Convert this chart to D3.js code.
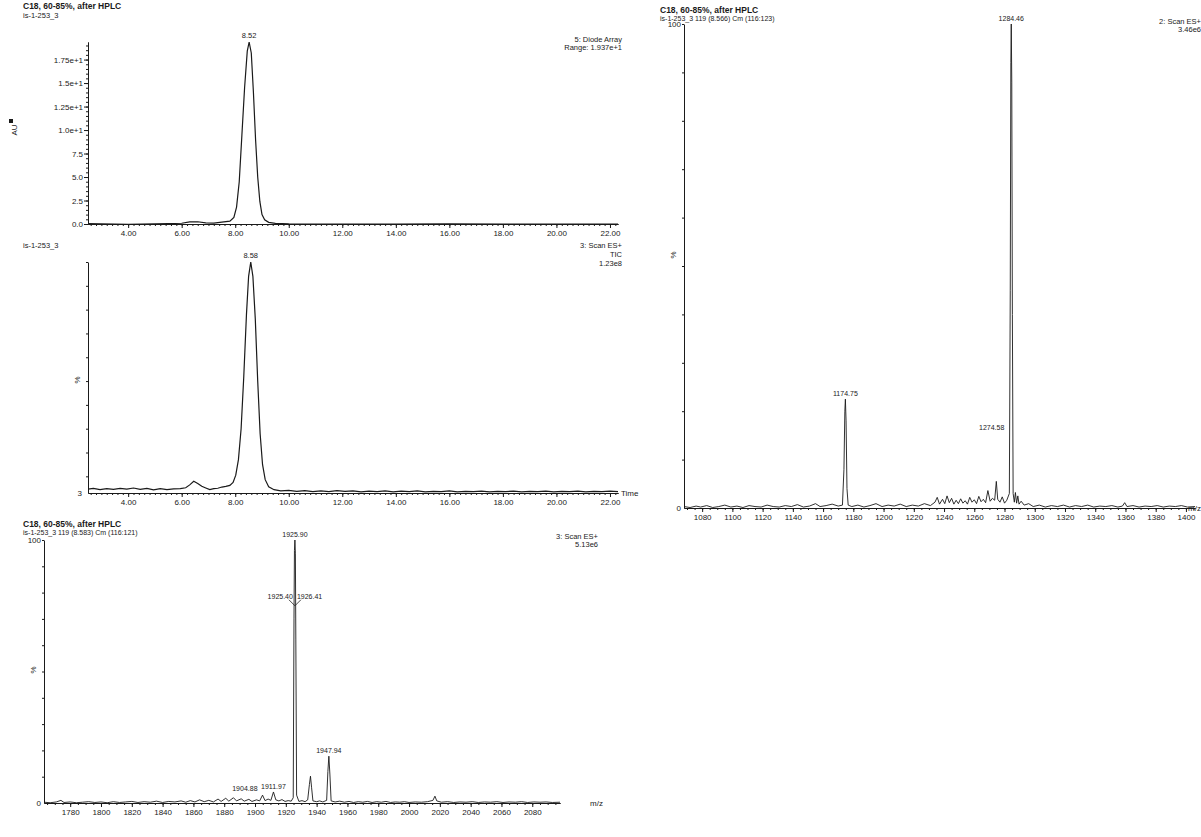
<!DOCTYPE html>
<html>
<head>
<meta charset="utf-8">
<script src="https://cdn.jsdelivr.net/npm/d3@7"></script>
<style>
  body { margin: 0; background: #fff; }
  svg text { font-family: "Liberation Sans", Arial, sans-serif; fill: #1a1a1a; }
  .axis .domain, .axis line { stroke: #1a1a1a; stroke-width: 1; }
  .axis text { font-size: 8px; fill: #1a1a1a; }
  .trace { fill: none; stroke: #1a1a1a; stroke-width: 1.2; }
</style>
</head>
<body>
<svg id="chart" width="1201" height="837"></svg>
<script>
// ---- data ----
const runTitle = "C18, 60-85%, after HPLC";
const sampleName = "is-1-253_3";

const timeTicks = [4, 6, 8, 10, 12, 14, 16, 18, 20, 22];

const uvYTicks = [0, 2.5, 5, 7.5, 10, 12.5, 15, 17.5];
const uvYLabels = ["0.0", "2.5", "5.0", "7.5", "1.0e+1", "1.25e+1", "1.5e+1", "1.75e+1"];

// diode array trace [min, AU]
const uvTrace = [
  [2.5, 0.05], [3.0, 0.02], [3.5, 0.0], [4.0, -0.04], [4.5, 0.0], [5.0, 0.02],
  [5.5, 0.05], [6.0, 0.08], [6.3, 0.22], [6.6, 0.24], [6.9, 0.12], [7.2, 0.1],
  [7.5, 0.2], [7.8, 0.3], [7.95, 0.7], [8.05, 1.8], [8.15, 4.5], [8.25, 9.5],
  [8.35, 14.5], [8.45, 18.4], [8.52, 19.37], [8.6, 18.2], [8.68, 14.0], [8.76, 9.0],
  [8.84, 5.0], [8.92, 2.4], [9.0, 1.0], [9.1, 0.45], [9.25, 0.18], [9.5, 0.06],
  [10.0, 0.02], [12.0, 0.0], [14.0, 0.0], [16.0, 0.01], [18.0, 0.0], [20.0, 0.0], [22.3, 0.0]
];

// TIC trace [min, %]
const ticTrace = [
  [2.5, 4.6], [2.7, 4.9], [2.95, 4.4], [3.2, 4.8], [3.45, 4.5], [3.7, 4.9], [3.95, 4.6],
  [4.2, 5.1], [4.45, 4.5], [4.7, 4.9], [4.95, 4.3], [5.2, 4.8], [5.45, 4.4], [5.7, 4.7],
  [5.95, 4.8], [6.15, 5.2], [6.3, 6.4], [6.45, 7.9], [6.6, 7.0], [6.75, 5.8], [6.9, 5.1],
  [7.05, 4.4], [7.2, 4.8], [7.35, 5.0], [7.5, 5.5], [7.65, 5.8], [7.8, 6.2], [7.92, 7.4],
  [8.02, 10.5], [8.12, 17], [8.22, 30], [8.32, 52], [8.42, 78], [8.5, 94], [8.58, 100],
  [8.66, 94], [8.75, 76], [8.84, 50], [8.93, 28], [9.02, 15], [9.12, 8.6], [9.25, 5.6],
  [9.45, 4.4], [9.7, 3.9], [10.0, 4.1], [10.3, 3.7], [10.6, 4.0], [10.9, 3.6], [11.2, 3.9],
  [11.5, 3.6], [11.8, 4.0], [12.1, 3.7], [12.4, 3.9], [12.7, 3.5], [13.0, 3.8], [13.3, 3.6],
  [13.6, 3.9], [13.9, 3.5], [14.2, 3.8], [14.5, 3.6], [14.8, 3.9], [15.1, 3.5], [15.4, 3.7],
  [15.7, 3.6], [16.0, 3.9], [16.3, 3.5], [16.6, 3.7], [16.9, 3.6], [17.2, 3.8], [17.5, 3.5],
  [17.8, 3.7], [18.1, 3.6], [18.4, 3.8], [18.7, 3.5], [19.0, 3.7], [19.3, 3.6], [19.6, 3.8],
  [19.9, 3.5], [20.2, 3.7], [20.5, 3.6], [20.8, 3.8], [21.1, 3.5], [21.4, 3.7], [21.7, 3.6],
  [22.0, 3.8], [22.3, 3.6]
];

// mass spectrum at 8.566 min [m/z, %]
const ms1Ticks = [1080, 1100, 1120, 1140, 1160, 1180, 1200, 1220, 1240, 1260, 1280, 1300, 1320, 1340, 1360, 1380, 1400];
const ms1Trace = [
  [1068, 0.3], [1072, 0.1], [1076, 0.4], [1079, 0.2], [1083, 0.5], [1087, 0.1], [1091, 0.3],
  [1095, 0.6], [1099, 0.2], [1103, 0.4], [1107, 0.1], [1111, 0.5], [1115, 0.3], [1119, 0.2],
  [1123, 0.6], [1127, 0.3], [1131, 0.2], [1135, 0.5], [1139, 0.3], [1143, 0.7], [1147, 0.2],
  [1151, 0.4], [1155, 0.9], [1158, 0.3], [1162, 0.5], [1166, 0.8], [1170, 0.4], [1172.8, 0.6],
  [1173.8, 8], [1174.4, 20], [1174.75, 22.5], [1175.2, 18], [1175.8, 4], [1176.6, 0.6],
  [1179, 0.3], [1183, 0.6], [1187, 0.2], [1191, 0.5], [1195, 0.9], [1199, 0.3], [1203, 0.6],
  [1207, 0.4], [1211, 0.8], [1215, 0.3], [1219, 0.6], [1223, 0.4], [1227, 0.9], [1231, 0.5],
  [1234, 1.2], [1235.5, 2.2], [1237, 0.8], [1239, 1.8], [1240.5, 0.9], [1242, 2.5], [1243.5, 1.1],
  [1245, 2.0], [1246.5, 0.8], [1248, 1.6], [1249.5, 0.9], [1251, 1.9], [1252.5, 1.0], [1254, 1.5],
  [1255.5, 0.8], [1257, 2.2], [1258.5, 1.2], [1260, 1.7], [1261.5, 0.9], [1263, 2.4], [1264.5, 1.3],
  [1266, 1.8], [1267.5, 1.1], [1269, 3.6], [1270.5, 1.4], [1272, 2.0], [1273.5, 1.6], [1274.58, 5.5],
  [1275.5, 1.8], [1277, 1.2], [1278.5, 2.3], [1280, 1.0], [1281.5, 1.6], [1283.2, 3], [1283.8, 45],
  [1284.2, 92], [1284.46, 100], [1284.8, 88], [1285.2, 40], [1285.7, 3], [1286.5, 1.2], [1287.2, 3.2],
  [1288, 1.0], [1288.8, 2.5], [1289.6, 0.8], [1291, 1.4], [1293, 0.6], [1296, 0.9], [1299, 0.3],
  [1303, 0.6], [1307, 0.2], [1311, 0.5], [1315, 0.3], [1319, 0.6], [1323, 0.2], [1327, 0.5],
  [1331, 0.3], [1335, 0.6], [1339, 0.2], [1343, 0.4], [1347, 0.3], [1351, 0.5], [1355, 0.2],
  [1358, 0.4], [1359.5, 1.1], [1361, 0.3], [1365, 0.5], [1369, 0.2], [1373, 0.4], [1377, 0.3],
  [1381, 0.5], [1385, 0.2], [1389, 0.4], [1393, 0.3], [1397, 0.5], [1401, 0.2], [1406, 0.3]
];
const ms1Peaks = [[1284.46, 100, "1284.46"], [1174.75, 22.5, "1174.75"]];

// mass spectrum at 8.583 min [m/z, %]
const ms2Ticks = [1780, 1800, 1820, 1840, 1860, 1880, 1900, 1920, 1940, 1960, 1980, 2000, 2020, 2040, 2060, 2080];
const ms2Trace = [
  [1763, 0.3], [1767, 0.1], [1771, 0.4], [1774, 1.0], [1776, 0.2], [1780, 0.4], [1784, 0.1],
  [1788, 0.3], [1792, 0.5], [1796, 0.2], [1800, 0.4], [1804, 0.1], [1808, 0.5], [1812, 0.2],
  [1816, 0.4], [1820, 0.6], [1824, 0.2], [1828, 0.5], [1832, 0.3], [1836, 0.7], [1840, 0.2],
  [1844, 0.6], [1848, 0.4], [1852, 0.8], [1855, 0.3], [1858, 0.9], [1861, 0.4], [1864, 1.2],
  [1867, 0.5], [1870, 1.0], [1873, 0.4], [1876, 1.5], [1878, 0.6], [1881, 1.8], [1883, 0.7],
  [1886, 2.0], [1888, 0.8], [1891, 1.6], [1893, 0.7], [1896, 1.4], [1898, 0.6], [1901, 1.2],
  [1903, 0.8], [1904.88, 3.0], [1906.5, 0.9], [1908.5, 1.5], [1910.3, 1.0], [1911.97, 4.2],
  [1913.5, 1.2], [1915.5, 0.8], [1917.5, 1.3], [1919.5, 0.6], [1921.5, 0.9], [1923.5, 0.7],
  [1924.8, 2], [1925.3, 70], [1925.6, 96], [1925.9, 100], [1926.2, 95], [1926.5, 62], [1927.0, 3],
  [1928.5, 0.6], [1930.5, 0.9], [1932.5, 0.5], [1934.2, 1.2], [1935.3, 7], [1936.0, 10.2],
  [1936.7, 6], [1937.6, 0.8], [1940, 0.5], [1942, 0.8], [1944, 0.4], [1946.5, 1.0], [1947.3, 12],
  [1947.94, 17.8], [1948.6, 11], [1949.4, 0.8], [1952, 0.4], [1955, 0.7], [1958, 0.3], [1961, 0.6],
  [1964, 0.2], [1967, 0.5], [1970, 0.3], [1973, 0.6], [1976, 0.2], [1979, 0.5], [1982, 0.3],
  [1985, 0.6], [1988, 0.2], [1991, 0.4], [1994, 0.3], [1997, 0.5], [2000, 0.2], [2004, 0.4],
  [2008, 0.3], [2012, 0.5], [2015.5, 1.0], [2016.8, 2.6], [2018, 0.8], [2021, 0.3], [2025, 0.5],
  [2029, 0.2], [2033, 0.4], [2037, 0.3], [2041, 0.5], [2045, 0.2], [2049, 0.4], [2053, 0.3],
  [2057, 0.5], [2061, 0.2], [2065, 0.4], [2069, 0.3], [2073, 0.5], [2077, 0.2], [2081, 0.4],
  [2085, 0.3], [2089, 0.4], [2093, 0.2], [2098, 0.3]
];
const ms2Peaks = [[1925.90, 100, "1925.90"], [1947.94, 17.8, "1947.94"], [1911.97, 4.2, "1911.97"]];

// ---- drawing ----
const svg = d3.select("#chart");
svg.append("rect").attr("width", 1201).attr("height", 837).attr("fill", "#fff");

function addText(g, txt, x, y, opts = {}) {
  return g.append("text")
    .attr("x", x).attr("y", y)
    .attr("text-anchor", opts.anchor || "start")
    .style("font-size", (opts.size || 8) + "px")
    .style("font-weight", opts.bold ? "bold" : "normal")
    .text(txt);
}

function xAxis(g, x, y, minor, major, fmt) {
  g.append("g").attr("class", "axis").attr("transform", `translate(0,${y})`)
    .call(d3.axisBottom(x).tickValues(minor).tickSize(2).tickSizeOuter(0).tickFormat(""));
  g.append("g").attr("class", "axis").attr("transform", `translate(0,${y})`)
    .call(d3.axisBottom(x).tickValues(major).tickSize(4).tickSizeOuter(0).tickPadding(2).tickFormat(fmt));
}

function yAxis(g, y, x0, minor, major, labels) {
  g.append("g").attr("class", "axis").attr("transform", `translate(${x0},0)`)
    .call(d3.axisLeft(y).tickValues(minor).tickSize(2).tickSizeOuter(0).tickFormat(""));
  if (major.length) {
    g.append("g").attr("class", "axis").attr("transform", `translate(${x0},0)`)
      .call(d3.axisLeft(y).tickValues(major).tickSize(4).tickSizeOuter(0).tickPadding(1)
        .tickFormat((d, i) => labels[i]));
  }
}

const line = (x, y) => d3.line().x(d => x(d[0])).y(d => y(d[1]));
const fmtTime = d3.format(".2f");

// panel 1: diode array
{
  const g = svg.append("g");
  const x = d3.scaleLinear().domain([2.5, 22.3]).range([88, 618]);
  const y = d3.scaleLinear().domain([0, 19.37]).range([224, 42]);
  addText(g, runTitle, 23, 9, { bold: true, size: 8.5 });
  addText(g, sampleName, 23, 18, { size: 7.5 });
  addText(g, "5: Diode Array", 622, 42, { anchor: "end", size: 7.5 });
  addText(g, "Range: 1.937e+1", 622, 50, { anchor: "end", size: 7.5 });
  yAxis(g, y, 88, d3.range(0, 19.4, 0.5), uvYTicks, uvYLabels);
  xAxis(g, x, 224, d3.range(2.6, 22.3, 0.2), timeTicks, fmtTime);
  g.append("path").datum(uvTrace).attr("class", "trace").attr("d", line(x, y));
  addText(g, "8.52", x(8.52), y(19.37) - 4, { anchor: "middle", size: 7.5 });
  const au = g.append("g").attr("transform", "translate(14,130) rotate(-90)");
  au.append("rect").attr("x", 7).attr("y", -5).attr("width", 4).attr("height", 4).attr("fill", "#1a1a1a");
  addText(au, "AU", 0, 3, { anchor: "middle", size: 8 });
}

// panel 2: TIC
{
  const g = svg.append("g");
  const x = d3.scaleLinear().domain([2.5, 22.3]).range([88, 618]);
  const y = d3.scaleLinear().domain([3, 100]).range([493, 262]);
  addText(g, sampleName, 23, 248, { size: 7.5 });
  addText(g, "3: Scan ES+", 622, 248, { anchor: "end", size: 7.5 });
  addText(g, "TIC", 622, 257, { anchor: "end", size: 7.5 });
  addText(g, "1.23e8", 622, 266, { anchor: "end", size: 7.5 });
  yAxis(g, y, 88, [10, 20, 30, 40, 50, 60, 70, 80, 90, 100], [], []);
  addText(g, "3", 82, 496, { anchor: "end", size: 8 });
  xAxis(g, x, 493, d3.range(2.6, 22.3, 0.2), timeTicks, fmtTime);
  addText(g, "Time", 621, 496, { size: 8 });
  g.append("path").datum(ticTrace).attr("class", "trace").attr("d", line(x, y));
  addText(g, "8.58", x(8.58), y(100) - 4, { anchor: "middle", size: 7.5 });
  addText(g.append("g").attr("transform", "translate(80,380) rotate(-90)"), "%", 0, 0, { anchor: "middle", size: 8 });
}

// panel 3: spectrum 1
{
  const g = svg.append("g");
  const x = d3.scaleLinear().domain([1068, 1406]).range([684, 1195]);
  const y = d3.scaleLinear().domain([0, 100]).range([508, 24]);
  addText(g, runTitle, 660, 13, { bold: true, size: 8.5 });
  addText(g, "is-1-253_3 119 (8.566) Cm (116:123)", 660, 21, { size: 7 });
  addText(g, "2: Scan ES+", 1201, 24, { anchor: "end", size: 7.5 });
  addText(g, "3.46e6", 1201, 32, { anchor: "end", size: 7.5 });
  addText(g, "100", 681, 27, { anchor: "end", size: 8 });
  addText(g, "0", 681, 511, { anchor: "end", size: 8 });
  yAxis(g, y, 684, d3.range(10, 101, 10), [], []);
  xAxis(g, x, 508, d3.range(1070, 1406, 5), ms1Ticks, d3.format("d"));
  addText(g, "m/z", 1188, 511, { size: 8 });
  g.append("path").datum(ms1Trace).attr("class", "trace").style("stroke-width", 0.9).attr("d", line(x, y));
  ms1Peaks.forEach(p => addText(g, p[2], x(p[0]), y(p[1]) - 3, { anchor: "middle", size: 7 }));
  addText(g, "1274.58", x(1274.58) + 8, 430, { anchor: "end", size: 7 });
  addText(g.append("g").attr("transform", "translate(676,255) rotate(-90)"), "%", 0, 0, { anchor: "middle", size: 8 });
}

// panel 4: spectrum 2
{
  const g = svg.append("g");
  const x = d3.scaleLinear().domain([1763, 2098]).range([44, 560]);
  const y = d3.scaleLinear().domain([0, 100]).range([803, 540]);
  addText(g, runTitle, 23, 527, { bold: true, size: 8.5 });
  addText(g, "is-1-253_3 119 (8.583) Cm (116:121)", 23, 535, { size: 7 });
  addText(g, "3: Scan ES+", 598, 539, { anchor: "end", size: 7.5 });
  addText(g, "5.13e6", 598, 547, { anchor: "end", size: 7.5 });
  addText(g, "100", 41, 543, { anchor: "end", size: 8 });
  addText(g, "0", 41, 806, { anchor: "end", size: 8 });
  yAxis(g, y, 44, d3.range(10, 101, 10), [], []);
  xAxis(g, x, 803, d3.range(1765, 2098, 5), ms2Ticks, d3.format("d"));
  addText(g, "m/z", 590, 806, { size: 8 });
  g.append("path").datum(ms2Trace).attr("class", "trace").style("stroke-width", 0.9).attr("d", line(x, y));
  ms2Peaks.forEach(p => addText(g, p[2], x(p[0]), y(p[1]) - 3, { anchor: "middle", size: 7 }));
  addText(g, "1904.88", x(1904.88) - 5, y(3.0) - 4, { anchor: "end", size: 7 });
  // split labels at the main peak
  const yb = y(75);
  g.append("path").attr("class", "trace").style("stroke-width", 0.8)
    .attr("d", `M${x(1925.9) - 6},${yb - 6}L${x(1925.9)},${yb}L${x(1925.9) + 6},${yb - 6}`);
  addText(g, "1925.40", x(1925.9) - 2, yb - 7, { anchor: "end", size: 7 });
  addText(g, "1926.41", x(1925.9) + 2, yb - 7, { size: 7 });
  addText(g.append("g").attr("transform", "translate(36,670) rotate(-90)"), "%", 0, 0, { anchor: "middle", size: 8 });
}
</script>
</body>
</html>
